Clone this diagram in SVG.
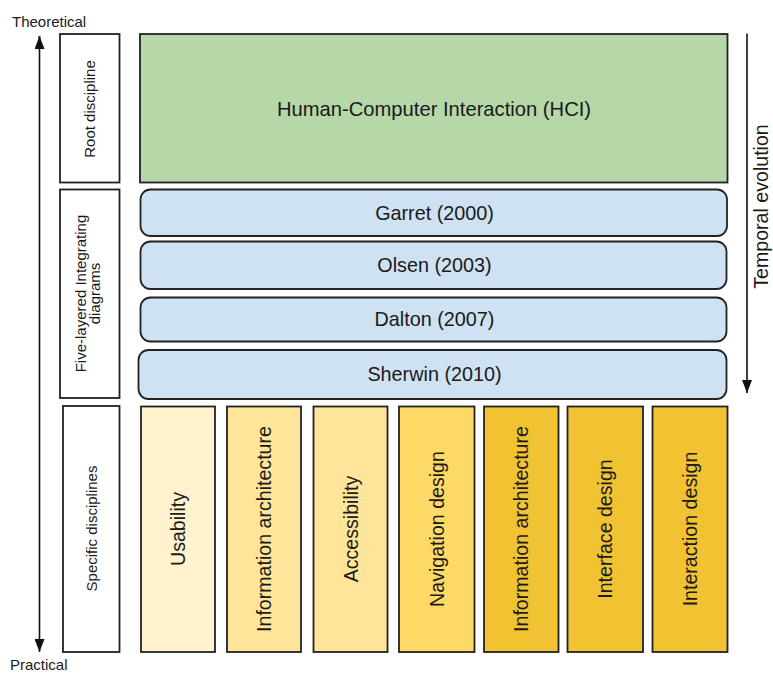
<svg xmlns="http://www.w3.org/2000/svg" width="773" height="673" viewBox="0 0 773 673">
<defs>
<style>
.box{stroke:#222;stroke-width:1.8}
.lbl{fill:#fff}
.t{font-family:"Liberation Sans",Arial,sans-serif;fill:#1a1a1a}
.s15{font-size:15px}
.s19{font-size:19.8px}
.s20{font-size:19.6px}
.s21{font-size:20.2px}
.ax{stroke:#111;stroke-width:1.6;fill:none}
</style>
<marker id="ah2" viewBox="0 0 13 10" refX="13" refY="5" markerWidth="13" markerHeight="10" markerUnits="userSpaceOnUse" orient="auto">
<path d="M0,0 L13,5 L0,10 Z" fill="#111"/>
</marker>
</defs>
<rect width="773" height="673" fill="#fff"/>

<g id="connectors">
<line class="ax" x1="39.5" y1="44" x2="39.5" y2="36" marker-end="url(#ah2)"/>
<line class="ax" x1="39.5" y1="36" x2="39.5" y2="652" marker-end="url(#ah2)"/>
<line class="ax" x1="747" y1="33.5" x2="747" y2="393" marker-end="url(#ah2)"/>
</g>

<g id="axis-labels">
<text class="t s15" x="12" y="27">Theoretical</text>
<text class="t s15" x="10" y="670">Practical</text>
<text class="t s20" transform="translate(768,206.5) rotate(-90)" text-anchor="middle">Temporal evolution</text>
</g>

<g id="label-root">
<rect class="box lbl" x="60" y="34" width="59.5" height="148.5"/>
<text class="t s15" transform="translate(95,109) rotate(-90)" text-anchor="middle">Root discipline</text>
</g>
<g id="label-five">
<rect class="box lbl" x="60" y="189.5" width="59.5" height="208.5"/>
<text class="t s15" transform="translate(86,293.5) rotate(-90)" text-anchor="middle">Five-layered Integrating</text>
<text class="t s15" transform="translate(100,293.5) rotate(-90)" text-anchor="middle">diagrams</text>
</g>
<g id="label-specific">
<rect class="box lbl" x="63" y="406" width="56.5" height="246"/>
<text class="t s15" transform="translate(96.5,528.5) rotate(-90)" text-anchor="middle">Specific disciplines</text>
</g>

<g id="hci">
<rect class="box" x="140" y="34" width="587.5" height="148.5" fill="#b6d7a8"/>
<text class="t s21" x="434" y="115.5" text-anchor="middle">Human-Computer Interaction (HCI)</text>
</g>

<g id="garret">
<rect class="box" x="140.5" y="189.5" width="586.5" height="46.5" rx="10" fill="#cfe2f3"/>
<text class="t s19" x="434.5" y="219.5" text-anchor="middle">Garret (2000)</text>
</g>
<g id="olsen">
<rect class="box" x="140.5" y="241.5" width="586" height="47.5" rx="10" fill="#cfe2f3"/>
<text class="t s19" x="434.5" y="272" text-anchor="middle">Olsen (2003)</text>
</g>
<g id="dalton">
<rect class="box" x="140.5" y="297.5" width="586" height="44" rx="10" fill="#cfe2f3"/>
<text class="t s19" x="434.5" y="326" text-anchor="middle">Dalton (2007)</text>
</g>
<g id="sherwin">
<rect class="box" x="138.5" y="350" width="588" height="49" rx="10" fill="#cfe2f3"/>
<text class="t s19" x="434.5" y="381" text-anchor="middle">Sherwin (2010)</text>
</g>

<g id="usability">
<rect class="box" x="141" y="406.5" width="74" height="245.5" fill="#fff2cc"/>
<text class="t s20" transform="translate(185,529) rotate(-90)" text-anchor="middle">Usability</text>
</g>
<g id="info-arch-1">
<rect class="box" x="227" y="406.5" width="74" height="245.5" fill="#ffe599"/>
<text class="t s20" transform="translate(271,529) rotate(-90)" text-anchor="middle">Information architecture</text>
</g>
<g id="accessibility">
<rect class="box" x="313.5" y="406.5" width="74" height="245.5" fill="#ffe599"/>
<text class="t s20" transform="translate(357.5,529) rotate(-90)" text-anchor="middle">Accessibility</text>
</g>
<g id="navigation">
<rect class="box" x="399" y="406.5" width="75.5" height="245.5" fill="#ffd966"/>
<text class="t s20" transform="translate(443.5,529) rotate(-90)" text-anchor="middle">Navigation design</text>
</g>
<g id="info-arch-2">
<rect class="box" x="484" y="406.5" width="74.5" height="245.5" fill="#f1c232"/>
<text class="t s20" transform="translate(528,529) rotate(-90)" text-anchor="middle">Information architecture</text>
</g>
<g id="interface">
<rect class="box" x="567.5" y="406.5" width="75.5" height="245.5" fill="#f1c232"/>
<text class="t s20" transform="translate(612,529) rotate(-90)" text-anchor="middle">Interface design</text>
</g>
<g id="interaction">
<rect class="box" x="652.5" y="406.5" width="75" height="245.5" fill="#f1c232"/>
<text class="t s20" transform="translate(697,529) rotate(-90)" text-anchor="middle">Interaction design</text>
</g>
</svg>
